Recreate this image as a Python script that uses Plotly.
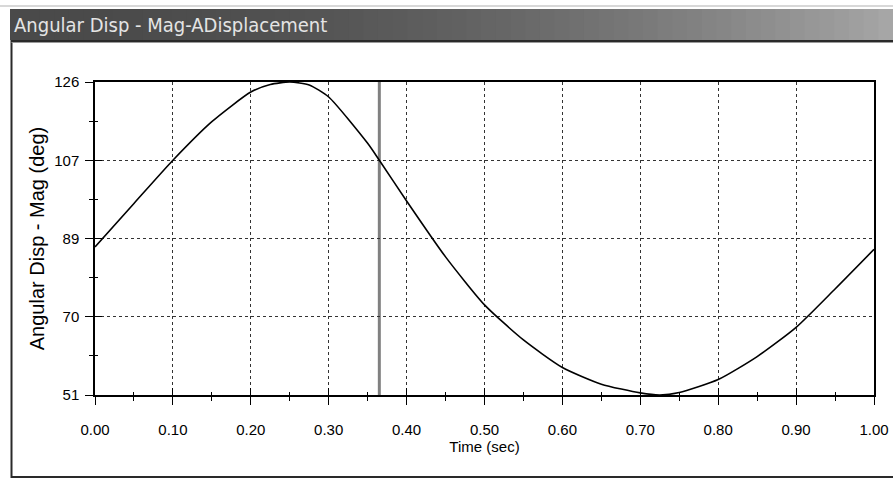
import plotly.graph_objects as go

# ---- data ----
time_sec = [0.00, 0.05, 0.10, 0.15, 0.20, 0.225, 0.25, 0.275, 0.30, 0.35, 0.365, 0.40,
            0.45, 0.50, 0.55, 0.60, 0.65, 0.70, 0.725, 0.75, 0.80, 0.85, 0.90, 0.95, 1.00]
ang_disp = [86.5, 96.9, 107.25, 116.5, 123.6, 125.4, 126.0, 125.3, 122.4, 111.3, 107.25, 97.5,
            84.1, 72.6, 64.2, 57.6, 53.6, 51.5, 51.0, 51.6, 54.7, 60.2, 67.2, 76.4, 85.9]
cursor_time = 0.365

y_tickvals = [51, 69.75, 88.5, 107.25, 126]
y_ticktext = ["51", "70", "89", "107", "126"]
x_tickvals = [0.0, 0.1, 0.2, 0.3, 0.4, 0.5, 0.6, 0.7, 0.8, 0.9, 1.0]
x_ticktext = ["0.00", "0.10", "0.20", "0.30", "0.40", "0.50", "0.60", "0.70", "0.80", "0.90", "1.00"]

W, H = 893, 482
L, R, T, B = 95, 874, 82, 395  # plot area in pixels


def px(x):
    return (x - L) / (R - L)


def py(y):
    return (B - y) / (B - T)


fig = go.Figure()
fig.add_trace(go.Scatter(x=time_sec, y=ang_disp, mode="lines",
                         line=dict(color="black", width=1.6, shape="spline", smoothing=0.6),
                         showlegend=False, hoverinfo="skip"))
# invisible trace on overlay axes so they render
fig.add_trace(go.Scatter(x=[0, 1], y=[51, 126], mode="lines", line=dict(width=0),
                         xaxis="x2", yaxis="y2", showlegend=False, hoverinfo="skip"))

tickfont = dict(family="Liberation Sans, Arial", size=15, color="black")
x_minor = [0.05 + 0.1 * i for i in range(10)]
y_minor = [51 + 9.375 + 18.75 * i for i in range(4)]

fig.update_layout(
    width=W, height=H,
    margin=dict(l=L, r=W - R, t=T, b=H - B, pad=0, autoexpand=False),
    paper_bgcolor="white", plot_bgcolor="white",
    xaxis=dict(range=[0, 1], tickvals=x_tickvals, ticktext=x_ticktext, tickfont=tickfont,
               ticks="outside", ticklen=8, tickwidth=1.3, tickcolor="black", ticklabelstandoff=12,
               showline=True, linecolor="black", linewidth=1.5, mirror=True,
               showgrid=True, gridcolor="#333333", griddash="dot", gridwidth=1,
               zeroline=False, minor=dict(tickvals=x_minor, ticks="outside", ticklen=4,
                                         tickcolor="black", tickwidth=1.3),
               title=dict(text="Time (sec)", font=dict(family="Liberation Sans, Arial", size=15, color="black"),
                          standoff=0)),
    yaxis=dict(range=[51, 126], tickvals=y_tickvals, ticktext=y_ticktext, tickfont=tickfont,
               ticks="outside", ticklen=8, tickwidth=1.3, tickcolor="black", ticklabelstandoff=3,
               showline=True, linecolor="black", linewidth=1.5, mirror=True,
               showgrid=True, gridcolor="#333333", griddash="dot", gridwidth=1,
               zeroline=False, minor=dict(tickvals=y_minor, ticks="outside", ticklen=4,
                                         tickcolor="black", tickwidth=1.3),
               title=dict(text="Angular Disp - Mag (deg)",
                          font=dict(family="Liberation Sans, Arial", size=20, color="black"),
                          standoff=4)),
    xaxis2=dict(range=[0, 1], overlaying="x", anchor="y", side="bottom", tickvals=x_tickvals,
                showticklabels=False, ticks="inside", ticklen=7, tickwidth=1.3, tickcolor="black",
                showgrid=False, zeroline=False, showline=False,
                minor=dict(tickvals=x_minor, ticks="inside", ticklen=3,
                           tickcolor="black", tickwidth=1.3)),
    yaxis2=dict(range=[51, 126], overlaying="y", anchor="x", side="left", tickvals=y_tickvals,
                showticklabels=False, ticks="inside", ticklen=7, tickwidth=1.3, tickcolor="black",
                showgrid=False, zeroline=False, showline=False,
                minor=dict(tickvals=y_minor, ticks="inside", ticklen=3,
                           tickcolor="black", tickwidth=1.3)),
)

shapes = []
# light strip at top
shapes.append(dict(type="line", xref="paper", yref="paper", x0=px(0), x1=px(W), y0=py(6), y1=py(6),
                   line=dict(color="#d8d8d8", width=2), layer="below"))
# title bar gradient
n = 60
x_start, x_end = 10, W
for i in range(n):
    a = x_start + (x_end - x_start) * i / n
    b = x_start + (x_end - x_start) * (i + 1) / n + 1
    f = i / (n - 1)
    c = int(74 + 92 * f ** 2.0)
    shapes.append(dict(type="rect", xref="paper", yref="paper", x0=px(a), x1=px(b), y0=py(40), y1=py(9),
                       fillcolor=f"rgb({c},{c},{c})", line=dict(width=0), layer="below"))
# panel border
shapes.append(dict(type="rect", xref="paper", yref="paper", x0=px(11.5), x1=px(W + 5), y0=py(477), y1=py(41),
                   line=dict(color="#2a2a2a", width=2), fillcolor="rgba(0,0,0,0)", layer="below"))
shapes.append(dict(type="line", xref="paper", yref="paper", x0=px(11.5), x1=px(W), y0=py(42.5), y1=py(42.5),
                   line=dict(color="#9a9a9a", width=1), layer="below"))
# cursor line
shapes.append(dict(type="line", xref="x", yref="paper", x0=cursor_time, x1=cursor_time, y0=0, y1=1,
                   line=dict(color="#808080", width=3), layer="below"))
fig.update_layout(shapes=shapes)

fig.add_annotation(text="Angular Disp - Mag-ADisplacement", xref="paper", yref="paper",
                   x=px(12), y=py(25), xanchor="left", yanchor="middle", showarrow=False,
                   font=dict(family="DejaVu Sans Condensed, DejaVu Sans", size=20, color="#e4e4e4"))

fig.write_html("out.html")
